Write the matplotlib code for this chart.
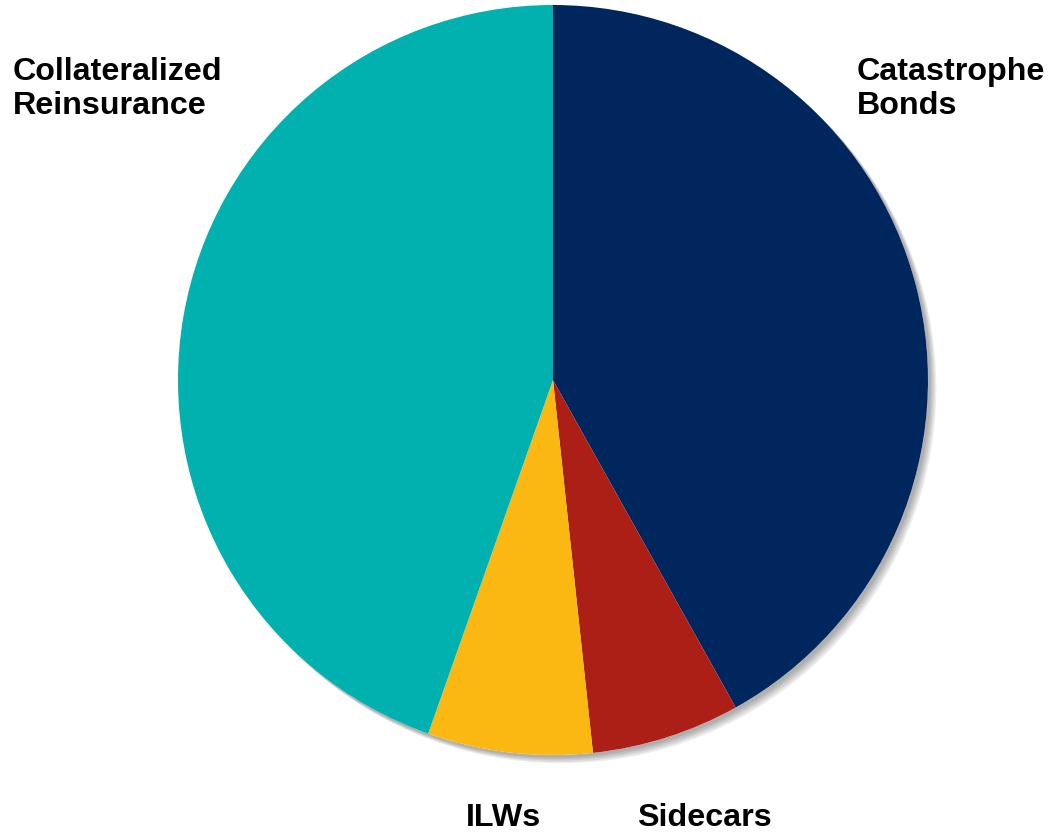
import matplotlib.pyplot as plt
import matplotlib.patheffects as pe
from matplotlib.patches import Circle

plt.rcParams['font.family'] = ['Liberation Sans', 'DejaVu Sans']

# Share of each capacity type (percent), clockwise from 12 o'clock
labels = ["Catastrophe\nBonds", "Sidecars", "ILWs", "Collateralized\nReinsurance"]
shares = [41.9, 6.4, 7.1, 44.6]
colors = ["#00265E", "#AB1F17", "#FBB813", "#00B1B0"]

fig = plt.figure(figsize=(10.48, 8.33), dpi=100)
ax = fig.add_axes([178 / 1048, 78 / 833, 750 / 1048, 750 / 833])

# soft drop shadow behind the whole pie
soft = [pe.SimplePatchShadow(offset=(d, -d), shadow_rgbFace="#000000", alpha=0.07)
        for d in (2, 3, 4, 5, 6)]
disc = Circle((0, 0), 1, facecolor="white", edgecolor="none", zorder=0)
disc.set_path_effects(soft + [pe.Normal()])
disc.set_clip_on(False)
ax.add_patch(disc)

wedges, _ = ax.pie(shares, colors=colors, startangle=90, counterclock=False,
                   radius=1, wedgeprops=dict(linewidth=0, zorder=1))
ax.set_xlim(-1, 1)
ax.set_ylim(-1, 1)
ax.set_aspect("equal")
ax.axis("off")

# label positions in pixels from top-left (baseline of last line)
label_pos = [(857, 114, "left"), (704, 826, "center"), (504, 826, "center"), (13, 114, "left")]
for text, (x, y, ha) in zip(labels, label_pos):
    fig.text(x / 1048, 1 - y / 833, text, ha=ha, va="baseline",
             fontsize=23.2, fontweight="bold", color="black", linespacing=1.17)

fig.savefig("out.png", dpi=100)
